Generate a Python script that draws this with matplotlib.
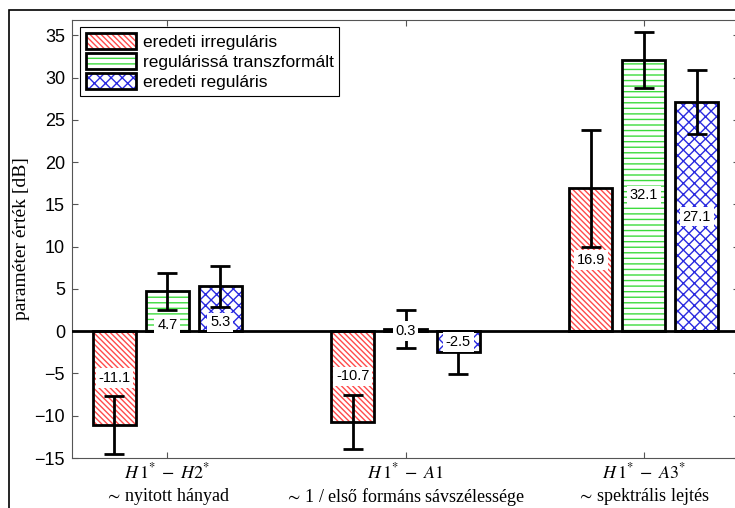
import matplotlib
matplotlib.use('Agg')
import matplotlib.pyplot as plt
from matplotlib.patches import Patch, Rectangle
import numpy as np

# measurement groups and series
groups = ['$H\\,1^{*}\\;-\\;H2^{*}$\n$\\sim\\,$nyitott hányad',
          '$H\\,1^{*}\\;-\\;A1$\n$\\sim\\,$1 / első formáns sávszélessége',
          '$H\\,1^{*}\\;-\\;A3^{*}$\n$\\sim\\,$spektrális lejtés']
series = ['eredeti irreguláris', 'regulárissá transzformált', 'eredeti reguláris']

irregular = [-11.1, -10.7, 16.9]
transformed = [4.7, 0.3, 32.1]
regular = [5.3, -2.5, 27.1]

irregular_err = [3.4, 3.2, 6.9]
transformed_err = [2.2, 2.25, 3.3]
regular_err = [2.4, 2.55, 3.8]

values = [irregular, transformed, regular]
errors = [irregular_err, transformed_err, regular_err]
hatch_colors = ['#ff4a4a', '#3ddc3d', '#2a2ae0']
hatches = ['\\\\\\\\\\\\', '---', 'xxx']

plt.rcParams['hatch.linewidth'] = 1.0
plt.rcParams['mathtext.fontset'] = 'stix'
plt.rcParams['font.family'] = 'Liberation Sans'

fig = plt.figure(figsize=(7.35, 5.08), dpi=100)
ax = fig.add_axes([0.098, 0.0984, 0.9075, 0.8622])

# outer frame of the figure
fig.patches.append(Rectangle((9 / 735, -0.1), 1.2, (508 - 10) / 508 + 0.1,
                             transform=fig.transFigure, fill=False,
                             edgecolor='black', linewidth=1.2))

x = np.arange(1, 4)
offset = 0.222
width = 0.18

handles = []
for i in range(3):
    xs = x + (i - 1) * offset
    ax.bar(xs, values[i], width, color='white', edgecolor=hatch_colors[i],
           hatch=hatches[i], linewidth=0, zorder=2)
    ax.bar(xs, values[i], width, fill=False, edgecolor='black',
           linewidth=2, zorder=3)
    ax.errorbar(xs, values[i], yerr=errors[i], fmt='none', ecolor='black',
                elinewidth=2, capsize=7, capthick=2, zorder=4)
    for xv, v in zip(xs, values[i]):
        if abs(v) < 1:
            ly = 0
        elif 0 < v < 10:
            ly = v / 2 - 1.6
        else:
            ly = v / 2
        ax.text(xv, ly, '%.1f' % v, ha='center', va='center', fontsize=10.5,
                zorder=5, bbox=dict(facecolor='white', edgecolor='none', pad=2))
    handles.append((Patch(facecolor='white', edgecolor=hatch_colors[i],
                          hatch=hatches[i], linewidth=0),
                    Patch(fill=False, edgecolor='black', linewidth=2)))

ax.axhline(0, color='black', linewidth=2, zorder=3)

ax.set_xlim(0.6, 3.4)
ax.set_ylim(-15, 36.8)
ax.set_yticks(range(-15, 36, 5))
ax.set_xticks(x)
ax.set_xticklabels(groups, fontfamily='Liberation Serif', fontsize=13,
                   linespacing=1.25)
ax.tick_params(axis='y', labelsize=13, pad=5)
ax.tick_params(axis='x', pad=3)
ax.tick_params(direction='in', top=True, right=True, length=4,
               color='#555555')
for s in ax.spines.values():
    s.set_color('#555555')
    s.set_linewidth(0.8)

ax.set_ylabel('paraméter érték [dB]', fontfamily='Liberation Serif',
              fontsize=14, labelpad=3)

leg = ax.legend(handles, series, loc='upper left',
                bbox_to_anchor=(0.012, 0.984), fontsize=12.5, fancybox=False,
                edgecolor='black', framealpha=1, borderpad=0.35,
                handlelength=2.9, handleheight=1.0, labelspacing=0.2,
                handletextpad=0.35, borderaxespad=0)
leg.get_frame().set_linewidth(0.8)

fig.savefig('out.png', dpi=100)
